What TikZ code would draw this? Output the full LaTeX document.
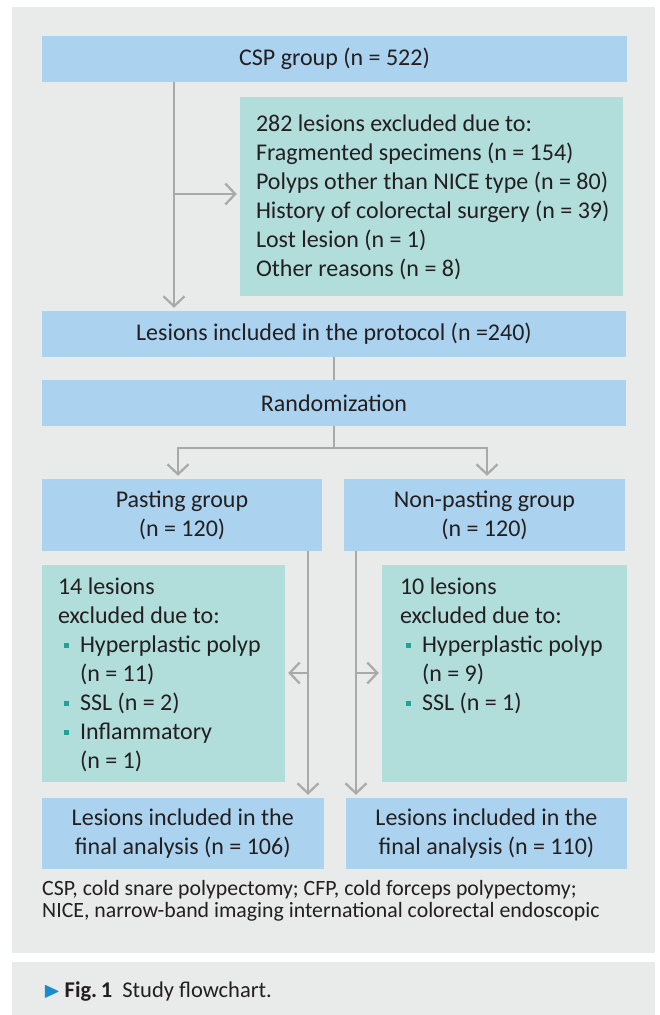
\documentclass[tikz,border=0pt]{standalone}
\usepackage{fontspec}
\setmainfont{Carlito}
\usepackage{amssymb}
\usetikzlibrary{arrows.meta,positioning}
\definecolor{panel}{HTML}{E9EBEA}
\definecolor{boxblue}{HTML}{ABD3F0}
\definecolor{boxteal}{HTML}{B1DDDB}
\definecolor{lin}{HTML}{A9A9A9}
\definecolor{ink}{HTML}{231F20}
\definecolor{bullet}{HTML}{1EA39B}
\definecolor{figblue}{HTML}{1A8BCF}
\newcommand{\bul}{\hspace*{6pt}\textcolor{bullet}{\rule[5pt]{5pt}{5pt}}\hspace*{11pt}}
\newcommand{\ind}{\hspace*{22pt}}

\begin{document}
\begin{tikzpicture}[x=1pt, y=-1pt,
font=\fontsize{24}{29}\selectfont, text=ink]
    \tikzstyle{blue box}=[rectangle, fill=boxblue, inner sep=0pt, align=center]
    \tikzstyle{teal box}=[rectangle, fill=boxteal, inner sep=0pt]
    \tikzstyle{txt}=[inner sep=0pt, align=left]
    \tikzstyle{conn}=[draw=lin, line width=2.2pt]
    \tikzstyle{tip}=[-{Straight Barb[length=10pt,width=21pt]}, shorten >=3pt]

\useasboundingbox (0,0) rectangle (660,1015);
\fill[panel] (12,7) rectangle (655,953);
\fill[panel] (12,962) rectangle (655,1015);

\node[blue box, minimum width=585pt, minimum height=46pt] (csp) at (334.5,59) {CSP group (n = 522)};
\node[teal box, minimum width=383pt, minimum height=199pt] (excl) at (431.5,196.5) {};
\node[txt, below right=18pt and 16pt of excl.north west] (excltxt) {282 lesions excluded due to:\\
Fragmented specimens (n = 154)\\
Polyps other than NICE type (n = 80)\\
History of colorectal surgery (n = 39)\\
Lost lesion (n = 1)\\
Other reasons (n = 8)};
\node[blue box, minimum width=584pt, minimum height=46pt] (prot) at (334,334) {Lesions included in the protocol (n =240)};
\node[blue box, minimum width=584pt, minimum height=46pt] (rand) at (334,403) {Randomization};

\node[blue box, minimum width=280pt, minimum height=72pt] (past) at (182,515) {Pasting group\\(n = 120)};
\node[blue box, minimum width=281pt, minimum height=72pt] (nonp) at (484.5,515) {Non-pasting group\\(n = 120)};

\node[teal box, minimum width=243pt, minimum height=217pt] (exL) at (163.5,673.5) {};
\node[txt, below right=13pt and 16pt of exL.north west] (exLtxt) {14 lesions\\
excluded due to:\\
\bul Hyperplastic polyp\\
\ind(n = 11)\\
\bul SSL (n = 2)\\
\bul Inflammatory\\
\ind(n = 1)};
\node[teal box, minimum width=245pt, minimum height=217pt] (exR) at (504.5,673.5) {};
\node[txt, below right=13pt and 18pt of exR.north west] (exRtxt) {10 lesions\\
excluded due to:\\
\bul Hyperplastic polyp\\
\ind(n = 9)\\
\bul SSL (n = 1)};

\node[blue box, minimum width=282pt, minimum height=71pt] (finL) at (182.8,833.5) {Lesions included in the\\final analysis (n = 106)};
\node[blue box, minimum width=281pt, minimum height=71pt] (finR) at (486.5,833.5) {Lesions included in the\\final analysis (n = 110)};

\node[txt, anchor=north west, font=\fontsize{21.8}{22}\selectfont] (note) at (42,880) {CSP, cold snare polypectomy; CFP, cold forceps polypectomy;\\
NICE, narrow-band imaging international colorectal endoscopic};
\node[anchor=base west, inner sep=0pt, font=\fontsize{22.5}{24}\selectfont] (caption) at (43,997) {\textcolor{figblue}{$\blacktriangleright$}\hspace{4pt}\textbf{Fig.\,1}\hspace{10pt}Study flowchart.};

% connectors
\coordinate (lx) at (174,0);
\coordinate (br) at (174,194);
\draw[conn, tip] (lx |- csp.south) -- (lx |- prot.north);
\draw[conn, tip] (br) -- (br -| excl.west);
\draw[conn] (prot.south) -- (rand.north);
\coordinate (dl) at (178,448);
\coordinate (dr) at (487,448);
\draw[conn] (rand.south) -- (rand.south |- dl);
\draw[conn, {Straight Barb[length=10pt,width=21pt]}-{Straight Barb[length=10pt,width=21pt]}, shorten <=3pt, shorten >=3pt]
  (dl |- past.north) -- (dl) -- (dr) -- (dr |- nonp.north);
\coordinate (vl) at (308,673);
\coordinate (vr) at (356,673);
\draw[conn, tip] (vl |- past.south) -- (vl |- finL.north);
\draw[conn, tip] (vl) -- (vl -| exL.east);
\draw[conn, tip] (vr |- nonp.south) -- (vr |- finR.north);
\draw[conn, tip] (vr) -- (vr -| exR.west);
\end{tikzpicture}
\end{document}
